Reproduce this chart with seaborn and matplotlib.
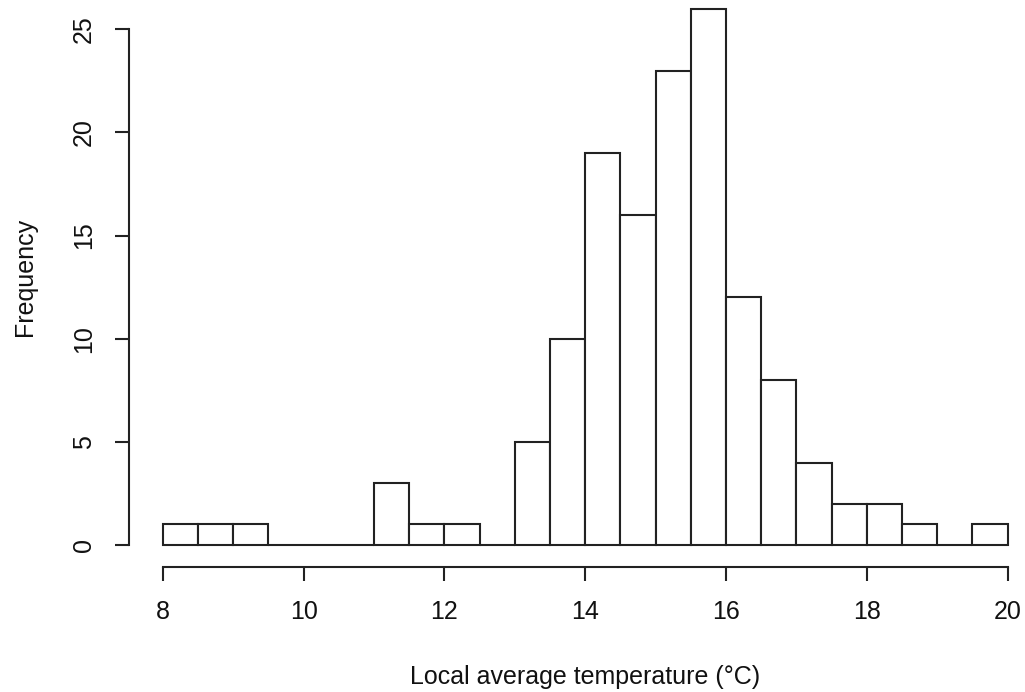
import numpy as np
import matplotlib
matplotlib.use("Agg")
import matplotlib.pyplot as plt
import seaborn as sns

# Data (bin width 0.5 from 8 to 20)
bin_edges = [8.0, 8.5, 9.0, 9.5, 10.0, 10.5, 11.0, 11.5, 12.0, 12.5, 13.0, 13.5,
             14.0, 14.5, 15.0, 15.5, 16.0, 16.5, 17.0, 17.5, 18.0, 18.5, 19.0, 19.5, 20.0]
counts = [1, 1, 1, 0, 0, 0, 3, 1, 1, 0, 5, 10, 19, 16, 23, 26, 12, 8, 4, 2, 2, 1, 0, 1]
x_ticks = [8, 10, 12, 14, 16, 18, 20]
y_ticks = [0, 5, 10, 15, 20, 25]
x_label = "Local average temperature (°C)"
y_label = "Frequency"

sns.set_theme(style="white")
plt.rcParams['font.family'] = ['Liberation Sans', 'DejaVu Sans']

W, H = 1025, 692
fig = plt.figure(figsize=(W / 100, H / 100), dpi=100)
# axes in pixel geometry (R-style plot region)
left_px, right_px = 129.0, 1041.5
bottom_px, top_px = 566.5, -12.8
ax = fig.add_axes([left_px / W, (H - bottom_px) / H,
                   (right_px - left_px) / W, (bottom_px - top_px) / H])

centers = [(a + b) / 2 for a, b in zip(bin_edges[:-1], bin_edges[1:])]
sns.histplot(x=centers, weights=counts, bins=bin_edges, ax=ax,
             color="white", edgecolor="#222222", linewidth=1.5, alpha=1)

ax.set_xlim(7.52, 20.48)
ax.set_ylim(-1.04, 27.04)

for s in ["top", "right"]:
    ax.spines[s].set_visible(False)
ax.spines["left"].set_bounds(0, 25)
ax.spines["bottom"].set_bounds(8, 20)
for s in ["left", "bottom"]:
    ax.spines[s].set_color("#222222")
    ax.spines[s].set_linewidth(1.5)

fs = 18
ax.set_xticks(x_ticks)
ax.set_yticks(y_ticks)
ax.set_xticklabels([str(t) for t in x_ticks])
ax.set_yticklabels([str(t) for t in y_ticks], rotation=90, va="center")
ax.tick_params(axis="both", direction="out", length=10.4, width=1.5,
               color="#222222", labelsize=fs, labelcolor="#111111",
               left=True, bottom=True)
ax.tick_params(axis="y", pad=13.5)
ax.tick_params(axis="x", pad=14)

ax.set_xlabel(x_label, fontsize=fs, color="#111111")
ax.set_ylabel(y_label, fontsize=fs, color="#111111")
ax.xaxis.label.set_va("center")
ax.yaxis.label.set_va("center")
ax.xaxis.set_label_coords(0.5, (bottom_px - 677) / (bottom_px - top_px))
ax.yaxis.set_label_coords((25 - left_px) / (right_px - left_px), 0.5)
ax.grid(False)

fig.savefig("out.png", dpi=100)
